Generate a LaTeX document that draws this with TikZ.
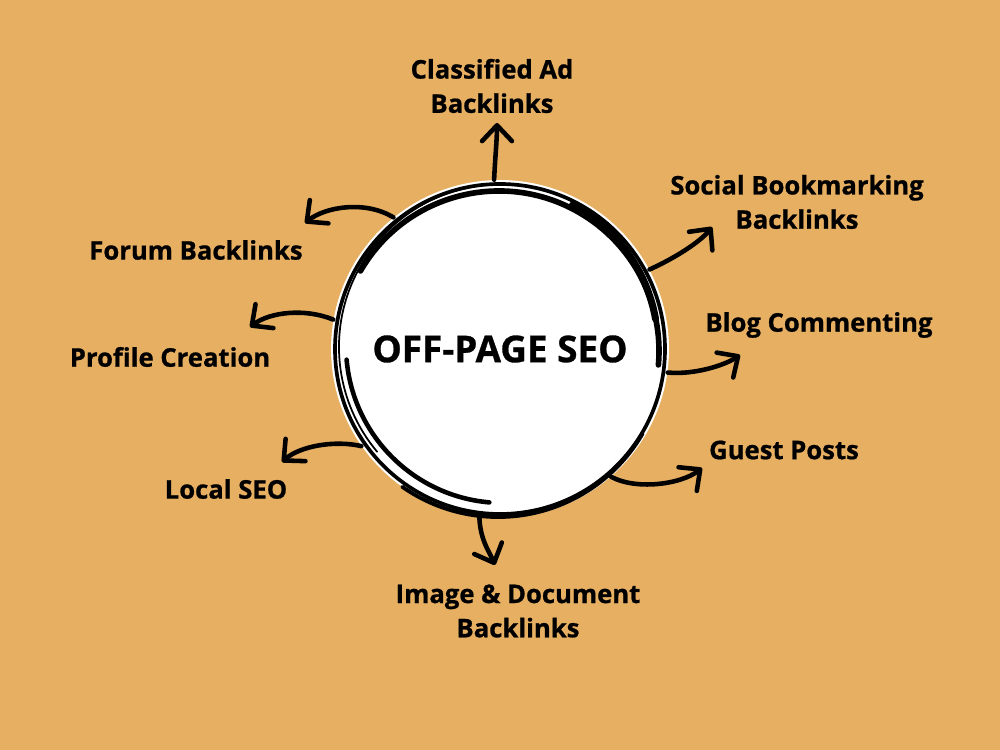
\documentclass[tikz,border=0pt]{standalone}
\usepackage{fontspec}
\setmainfont{Open Sans}[BoldFeatures={FakeBold=0.8}]
\usetikzlibrary{arrows.meta}
\definecolor{bg}{HTML}{E6AF62}
\tikzset{
  lbl/.style={font=\bfseries\fontsize{14.6}{19.5}\selectfont, align=center, text=black, inner sep=0pt},
  conn/.style={line width=2.6pt, line cap=round, -{Straight Barb[length=9pt,width=17pt,round]}},
  sketch/.style={black, line cap=round},
}
\begin{document}
\begin{tikzpicture}[x=0.02cm,y=0.02cm]
\fill[bg] (0,0) rectangle (1000,750);
\useasboundingbox (0,0) rectangle (1000,750);

% central disk
\node[circle, fill=white, minimum size=6.76cm, inner sep=0pt,
      font=\bfseries\fontsize{21}{23}\selectfont] (c) at (500,401) {OFF-PAGE SEO};

% hand-drawn strokes around the disk
\draw[sketch, line width=2.1pt, shift={(500,401)}] (0:165) arc[start angle=0, end angle=360, radius=165];
\draw[sketch, line width=3.2pt, shift={(499,399)}] (150:160) arc[start angle=150, end angle=-5, radius=160];
\draw[sketch, line width=1pt, shift={(502,403)}] (100:163) arc[start angle=100, end angle=220, radius=163];
\draw[sketch, line width=2.6pt, shift={(503,404)}] (185:157) arc[start angle=185, end angle=265, radius=157];
\draw[sketch, line width=2.2pt, shift={(498,400)}] (235:167) arc[start angle=235, end angle=330, radius=167];
\draw[sketch, line width=4pt, shift={(497,403)}] (62:161) arc[start angle=62, end angle=10, radius=161];

% arrow tips
\coordinate (t1) at (497,627);
\coordinate (t2) at (305,527);
\coordinate (t3) at (250,423);
\coordinate (t4) at (282,288);
\coordinate (t5) at (495,185);
\coordinate (t6) at (702,282);
\coordinate (t7) at (740,395);
\coordinate (t8) at (712,523);

% connectors
\draw[conn] (c.92)  .. controls (495,590) and (497,612) .. (t1);
\draw[conn] (c.129) .. controls (365,550) and (325,543) .. (t2);
\draw[conn] (c.170) .. controls (305,442) and (270,438) .. (t3);
\draw[conn] (c.215) .. controls (335,310) and (300,304) .. (t4);
\draw[conn] (c.263) .. controls (480,210) and (490,197) .. (t5);
\draw[conn] (c.311) .. controls (635,260) and (680,265) .. (t6);
\draw[conn] (c.352) .. controls (695,375) and (725,385) .. (t7);
\draw[conn] (c.28)  .. controls (675,492) and (700,508) .. (t8);

% labels
\node[lbl] (l1) at (492,664) {Classified Ad\\Backlinks};
\node[lbl] (l8) at (797,548) {Social Bookmarking\\Backlinks};
\node[lbl] (l2) at (196,500) {Forum Backlinks};
\node[lbl] (l7) at (819,425) {Blog Commenting};
\node[lbl] (l3) at (170,393) {Profile Creation};
\node[lbl] (l6) at (784,300) {Guest Posts};
\node[lbl] (l4) at (226,261) {Local SEO};
\node[lbl] (l5) at (518,139) {Image \& Document\\Backlinks};
\end{tikzpicture}
\end{document}
